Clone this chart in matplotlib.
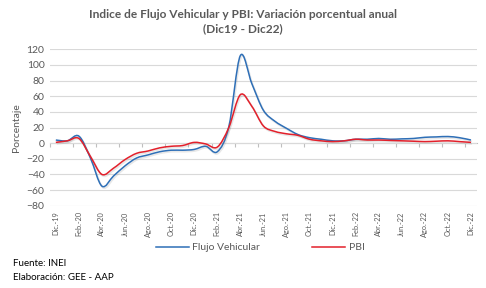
import matplotlib
matplotlib.use("Agg")
import matplotlib.pyplot as plt
import matplotlib.patheffects as pe
from matplotlib.path import Path
from matplotlib.patches import PathPatch
from matplotlib.lines import Line2D
import numpy as np

plt.rcParams["font.family"] = ["Lato", "DejaVu Sans"]

# monthly values, Dic-19 .. Dic-22
flujo = [4, 3, 9, -19, -55, -42, -29, -19, -15, -11, -9, -9, -8, -4, -11, 21,
         112, 76, 42, 28, 19, 11, 7, 5, 3, 3, 5, 5, 6, 5, 5.5, 6, 7.5, 8, 8.5, 7, 4]
pbi = [1, 3, 6, -17, -40, -32, -21, -13, -10, -6, -4, -3, 1, -1, -5, 20,
       62, 47, 22, 15, 12, 10, 5, 3, 2, 3, 5, 4, 4, 3.5, 3, 2.5, 2, 2.5, 3, 2, 1]
tick_labels = ["Dic.-19", "Feb.-20", "Abr.-20", "Jun.-20", "Ago.-20", "Oct.-20",
               "Dic.-20", "Feb.-21", "Abr.-21", "Jun.-21", "Ago.-21", "Oct.-21",
               "Dic.-21", "Feb.-22", "Abr.-22", "Jun.-22", "Ago.-22", "Oct.-22",
               "Dic.-22"]

BLUE = "#2E6FB7"
RED = "#E3202B"
GRAY = "#595959"


def smooth_path(ys):
    # Catmull-Rom -> cubic Bezier, like Excel's smoothed line
    xs = np.arange(len(ys), dtype=float)
    ys = np.asarray(ys, dtype=float)
    verts = [(xs[0], ys[0])]
    codes = [Path.MOVETO]
    n = len(ys)
    for i in range(n - 1):
        p0 = np.array([xs[max(i - 1, 0)], ys[max(i - 1, 0)]])
        p1 = np.array([xs[i], ys[i]])
        p2 = np.array([xs[i + 1], ys[i + 1]])
        p3 = np.array([xs[min(i + 2, n - 1)], ys[min(i + 2, n - 1)]])
        c1 = p1 + (p2 - p0) / 6
        c2 = p2 - (p3 - p1) / 6
        verts += [tuple(c1), tuple(c2), tuple(p2)]
        codes += [Path.CURVE4] * 3
    return Path(verts, codes)


fig = plt.figure(figsize=(4.86, 2.88), dpi=100)
ax = fig.add_axes([0.103, 0.2857, 0.878, 0.543])

for vals, col in [(flujo, BLUE), (pbi, RED)]:
    patch = PathPatch(smooth_path(vals), facecolor="none", edgecolor=col, lw=1.1,
                      zorder=3,
                      path_effects=[pe.SimpleLineShadow(offset=(0.7, -1.0), shadow_color="gray",
                                                        alpha=0.18, linewidth=1.4),
                                    pe.Normal()])
    ax.add_patch(patch)

ax.set_xlim(-0.5, len(flujo) - 0.5)
ax.set_ylim(-80, 120)
ax.set_yticks(range(-80, 121, 20))
ax.grid(axis="y", color="#D9D9D9", lw=0.8)
ax.set_axisbelow(True)
for s in ax.spines.values():
    s.set_visible(False)

ax.set_xticks(range(0, len(flujo), 2))
ax.set_xticklabels(tick_labels, rotation=90, fontsize=5.3, color=GRAY)
ax.tick_params(axis="x", length=0, pad=4)
ax.tick_params(axis="y", length=0, labelsize=7.5, labelcolor=GRAY, pad=4)
ax.set_ylabel("Porcentaje", fontsize=7.5, color=GRAY, labelpad=4)

# category axis crossing at zero
sec = ax.secondary_xaxis(0.4)
sec.set_xticks(np.arange(-0.5, len(flujo), 2))
sec.set_xticklabels([])
sec.tick_params(axis="x", length=3, color="#BFBFBF", width=0.8)
sec.spines["bottom"].set_color("#BFBFBF")
sec.spines["bottom"].set_linewidth(0.8)

fig.text(0.5, 0.925, "Indice de Flujo Vehicular y PBI: Variación porcentual anual\n(Dic19 - Dic22)",
         ha="center", va="center", fontsize=8.6, fontweight="bold", color=GRAY,
         linespacing=1.35)

handles = [Line2D([], [], color=BLUE, lw=1.1), Line2D([], [], color=RED, lw=1.1)]
fig.legend(handles, ["Flujo Vehicular", "PBI"], loc="center", bbox_to_anchor=(0.535, 0.14),
           ncol=2, frameon=False, fontsize=7.5, handlelength=3.2, columnspacing=5,
           handletextpad=0.3, labelcolor=GRAY)

fig.text(0.027, 0.085, "Fuente: INEI", fontsize=7, color="black", va="center")
fig.text(0.027, 0.035, "Elaboración: GEE - AAP", fontsize=7, color="black", va="center")

fig.savefig("out.png", dpi=100)
